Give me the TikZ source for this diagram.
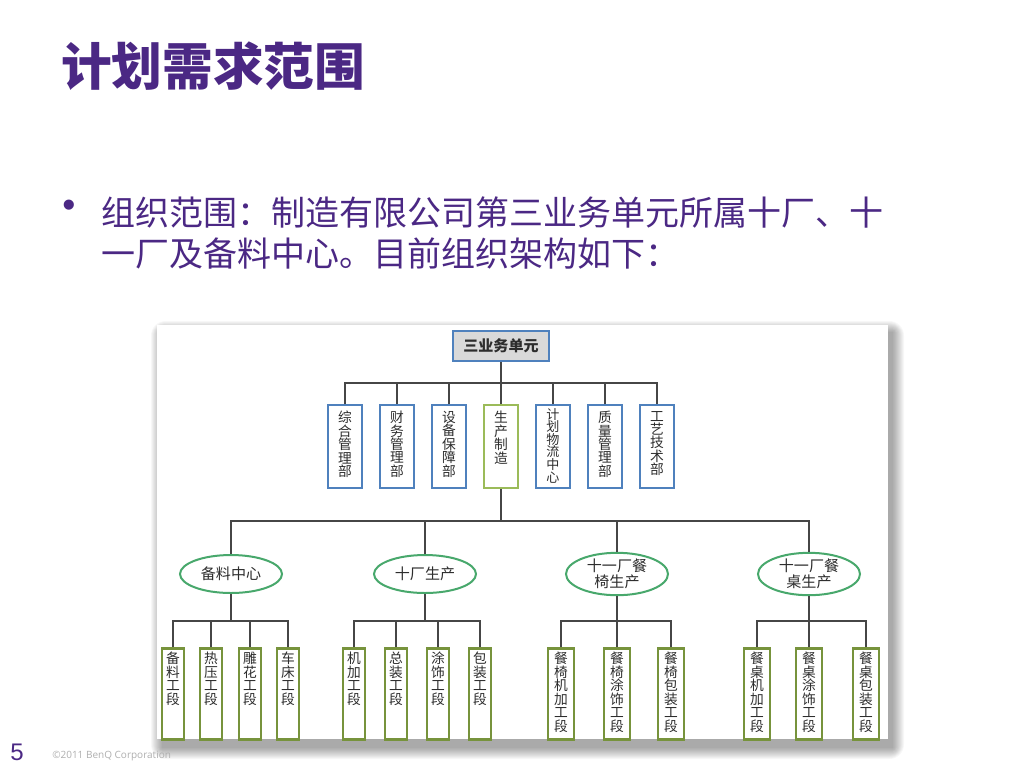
\documentclass[tikz,border=0pt]{standalone}
\usepackage{fontspec}
\setmainfont{Noto Sans CJK SC}
\newfontfamily\latinf{Liberation Sans}
\newfontfamily\footf{Open Sans}
\usetikzlibrary{shapes.geometric}
\definecolor{ttl}{RGB}{75,40,132}
\definecolor{bluebd}{RGB}{79,129,189}
\definecolor{greenbd}{RGB}{155,187,89}
\definecolor{olivebd}{RGB}{119,147,60}
\definecolor{ellbd}{RGB}{72,168,108}
\definecolor{linec}{RGB}{70,70,70}
\definecolor{txt}{RGB}{45,45,45}
\definecolor{topfill}{RGB}{217,217,217}
\definecolor{footc}{RGB}{175,175,175}
\newcommand\colbox[4]{\parbox[c][#2][t]{#1}{\lineskiplimit=-20pt\lineskip=0pt\centering\vspace*{#3}#4}}
\begin{document}
\begin{tikzpicture}[x=0.75pt,y=-0.75pt,
  conn/.style={draw=linec,line width=0.8pt},
  dept/.style={draw=bluebd,line width=1.6pt,fill=white,inner sep=0pt,anchor=north,text=txt,font=\fontsize{10.3pt}{10.1pt}\selectfont},
  prod/.style={dept,draw=greenbd},
  sect/.style={draw=olivebd,line width=1.9pt,fill=white,inner sep=0pt,anchor=north,text=txt,font=\fontsize{10.3pt}{10.1pt}\selectfont},
  unit/.style={ellipse,draw=ellbd,line width=1.5pt,fill=white,inner sep=0pt,minimum width=76.5pt,minimum height=28.5pt,align=center,text=txt,font=\fontsize{11.3pt}{12pt}\selectfont},
  topbox/.style={draw=bluebd,line width=1.8pt,fill=topfill,minimum width=72pt,minimum height=22.5pt,inner sep=0pt,text=txt,font=\fontsize{11.3pt}{12pt}\selectfont\bfseries},
  plain/.style={anchor=base west,inner sep=0pt}
]
\useasboundingbox (0,0) rectangle (1024,768);
\fill[white] (0,0) rectangle (1024,768);

% title and bullet text
\node[plain,text=ttl,font=\fontsize{38pt}{40pt}\selectfont\bfseries] (title) at (61,85) {计划需求范围};
\node[inner sep=0pt,text=ttl,font=\latinf\fontsize{28pt}{30pt}\selectfont] (dot) at (69,209) {•};
\node[plain,text=ttl,font=\fontsize{25.5pt}{30pt}\selectfont] (l1) at (101,225) {组织范围：制造有限公司第三业务单元所属十厂、十};
\node[plain,text=ttl,font=\fontsize{25.5pt}{30pt}\selectfont] (l2) at (101,266) {一厂及备料中心。目前组织架构如下：};

% chart frame with soft shadow
\foreach \i in {0,...,11}
  \fill[black,opacity=0.03,rounded corners=\i] (162-\i,332-\i) rectangle (893+\i,748+\i);
\fill[white] (157,325) rectangle (888,739);

% top
\node[topbox] (top) at (501,346) {三业务单元};
\coordinate (b1) at (501,383);
\node[dept] (d1) at (345,404) {\colbox{25.5pt}{62.25pt}{4.5pt}{综\\合\\管\\理\\部}};
\node[dept] (d2) at (397,404) {\colbox{25.5pt}{62.25pt}{4.5pt}{财\\务\\管\\理\\部}};
\node[dept] (d3) at (449,404) {\colbox{25.5pt}{62.25pt}{4.5pt}{设\\备\\保\\障\\部}};
\node[prod] (d4) at (501,404) {\colbox{25.5pt}{62.25pt}{4.5pt}{生\\产\\制\\造}};
\node[dept,font=\fontsize{9.8pt}{9.4pt}\selectfont] (d5) at (553,404) {\colbox{25.5pt}{62.25pt}{2.5pt}{计\\划\\物\\流\\中\\心}};
\node[dept] (d6) at (605,404) {\colbox{25.5pt}{62.25pt}{4.5pt}{质\\量\\管\\理\\部}};
\node[dept] (d7) at (657,404) {\colbox{25.5pt}{62.25pt}{4.5pt}{工\\艺\\技\\术\\部}};
\draw[conn] (top.south) -- (b1);
\foreach \n in {d1,d2,d3,d4,d5,d6,d7} \draw[conn] (\n.north) |- (b1);

% units
\coordinate (b2) at (501,521);
\node[unit] (e1) at (231,574) {备料中心};
\node[unit] (e2) at (425,574) {十厂生产};
\node[unit] (e3) at (617,574) {十一厂餐\\椅生产};
\node[unit] (e4) at (809,574) {十一厂餐\\桌生产};
\draw[conn] (d4.south) -- (b2);
\foreach \n in {e1,e2,e3,e4} \draw[conn] (\n.north) |- (b2);

% sections
\coordinate (g1) at (231,621);
\coordinate (g2) at (425,621);
\coordinate (g3) at (617,621);
\coordinate (g4) at (809,621);
\node[sect] (s11) at (173,647) {\colbox{16.5pt}{68.25pt}{3pt}{备\\料\\工\\段}};
\node[sect] (s12) at (211,647) {\colbox{16.5pt}{68.25pt}{3pt}{热\\压\\工\\段}};
\node[sect] (s13) at (250,647) {\colbox{16.5pt}{68.25pt}{3pt}{雕\\花\\工\\段}};
\node[sect] (s14) at (288,647) {\colbox{16.5pt}{68.25pt}{3pt}{车\\床\\工\\段}};
\node[sect] (s21) at (354,647) {\colbox{16.5pt}{68.25pt}{3pt}{机\\加\\工\\段}};
\node[sect] (s22) at (396,647) {\colbox{16.5pt}{68.25pt}{3pt}{总\\装\\工\\段}};
\node[sect] (s23) at (438,647) {\colbox{16.5pt}{68.25pt}{3pt}{涂\\饰\\工\\段}};
\node[sect] (s24) at (480,647) {\colbox{16.5pt}{68.25pt}{3pt}{包\\装\\工\\段}};
\node[sect] (s31) at (561,647) {\colbox{19.5pt}{68.25pt}{3pt}{餐\\椅\\机\\加\\工\\段}};
\node[sect] (s32) at (617,647) {\colbox{19.5pt}{68.25pt}{3pt}{餐\\椅\\涂\\饰\\工\\段}};
\node[sect] (s33) at (671,647) {\colbox{19.5pt}{68.25pt}{3pt}{餐\\椅\\包\\装\\工\\段}};
\node[sect] (s41) at (757,647) {\colbox{19.5pt}{68.25pt}{3pt}{餐\\桌\\机\\加\\工\\段}};
\node[sect] (s42) at (809,647) {\colbox{19.5pt}{68.25pt}{3pt}{餐\\桌\\涂\\饰\\工\\段}};
\node[sect] (s43) at (866,647) {\colbox{19.5pt}{68.25pt}{3pt}{餐\\桌\\包\\装\\工\\段}};
\foreach \e/\g in {e1/g1,e2/g2,e3/g3,e4/g4} \draw[conn] (\e.south) -- (\g);
\foreach \n in {s11,s12,s13,s14} \draw[conn] (\n.north) |- (g1);
\foreach \n in {s21,s22,s23,s24} \draw[conn] (\n.north) |- (g2);
\foreach \n in {s31,s32,s33} \draw[conn] (\n.north) |- (g3);
\foreach \n in {s41,s42,s43} \draw[conn] (\n.north) |- (g4);

% footer
\node[plain,text=ttl,font=\latinf\fontsize{18pt}{20pt}\selectfont] (pg) at (10,760) {5};
\node[plain,text=footc,font=\footf\fontsize{7.5pt}{9pt}\selectfont] (copy) at (52,758) {©2011 BenQ Corporation};
\end{tikzpicture}
\end{document}
